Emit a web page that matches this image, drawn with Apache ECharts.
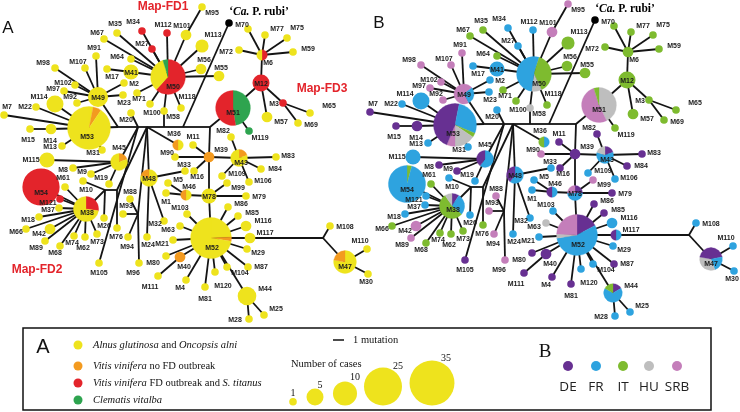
<!DOCTYPE html>
<html><head><meta charset="utf-8">
<script src="https://cdn.jsdelivr.net/npm/echarts@6.0.0/dist/echarts.min.js"></script>
<style>html,body{margin:0;padding:0;background:#fff}#c{width:740px;height:412px}</style>
</head><body><div id="c"></div>
<script>
// ---- network layout (node name, layout x, layout y, number of cases) ----
const nodes = [
['M1',166,193,1],['M2',124,83,1],['M3',283,103,1],['M4',186,280,1],['M5',168,183,1],['M6',262,55,2],['M7',4,115,1],['M8',73,168,1],['M9',91,174,1],['M10',83,181,1],
['M11',193,145,1],['M12',261,83,5],['M13',62,146,1],['M14',51,129,2],['M15',30,129,1],['M16',194,171,1],['M17',107,69,1],['M18',39,217,1],['M19',109,184,1],['M20',131,113,1],
['M21',173,240,1],['M22',36,107,1],['M23',123,95,1],['M24',147,237,1],['M25',264,315,1],['M26',104,218,1],['M27',152,49,1],['M28',249,319,1],['M29',247,249,1],['M30',368,274,1],
['M31',102,150,1],['M32',164,221,1],['M33',185,171,1],['M34',142,31,1],['M35',117,33,1],['M36',178,145,2],['M37',59,208,1],['M38',86,209,11],['M39',209,157,2],['M40',180,257,2],
['M41',131,72,4],['M42',50,229,2],['M43',239,158,5],['M44',247,296,6],['M45',119,162,5],['M46',186,195,2],['M47',345,262,9],['M48',149,178,5],['M49',98,97,7],['M50',168,77,21],
['M51',233,108,21],['M52',211,238,29],['M53',89,128,32],['M54',41,187,24],['M55',219,76,2],['M56',201,69,2],['M57',267,117,2],['M58',164,111,1],['M59',293,52,1],
['M61',65,187,1],['M62',85,237,1],['M63',180,226,1],['M64',131,59,1],['M65',310,113,1],['M66',26,229,1],['M67',104,39,1],['M68',60,246,1],['M69',298,123,1],['M70',248,29,1],
['M71',137,93,1],['M72',239,50,1],['M73',97,234,1],['M74',74,236,1],['M75',287,38,1],['M76',117,228,1],['M77',265,35,1],['M78',209,196,4],['M79',246,196,1],['M80',166,256,1],
['M81',205,287,1],['M82',231,137,1],['M83',276,157,1],['M84',261,169,1],['M85',238,216,1],['M86',228,207,1],['M87',248,267,1],['M88',130,199,1],['M89',45,241,1],['M90',175,157,1],
['M91',96,56,1],['M92',77,103,1],['M93',123,214,1],['M94',128,237,1],['M95',202,7,1],['M96',139,263,1],['M97',64,91,1],['M98',55,68,1],['M99',227,183,1],['M100',150,104,1],
['M101',186,35,2],['M102',75,85,1],['M103',187,214,1],['M104',227,267,1],['M105',99,263,1],['M106',249,182,1],['M107',85,68,1],['M108',330,226,1],['M109',222,176,1],['M110',367,249,1],
['M111',158,276,1],['M112',167,33,1],['M113',202,46,3],['M114',55,104,5],['M115',47,160,4],['M116',246,226,2],['M117',250,238,2],['M118',181,108,1],['M119',249,131,1],['M120',215,272,1],
['M121',60,199,1],['Ca',229,23,1]
];
const junctions = {J1:[118,127],J2:[138,127],J3:[147,127],J4:[164,127],J5:[183,127],J6:[210,127],J7:[105,190],J8:[117,190],J9:[138,214],J10:[323,238]};
const edges = [
['M53','J1'],['J1','J2'],['J2','J3'],['J3','J4'],['J4','J5'],['J5','J6'],['M49','J1'],['M20','J2'],['J2','M45'],['J3','J8'],['J8','J7'],['J7','M38'],['J7','M10'],['J7','M26'],['J8','M76'],['M105','J2'],
['J9','J3'],['J9','M88'],['J9','M93'],['J9','M94'],['J9','M96'],['J3','M48'],['M48','M24'],['M48','M33'],['M48','M32'],['J4','M58'],['M58','M50'],['J3','M36'],['J5','Ca'],['J6','M51'],['J6','M39'],
['M39','M11'],['M39','M90'],['M39','M16'],['M39','M43'],['M39','M78'],['M78','M52'],['M78','M46'],['M46','M5'],['M46','M1'],['M78','M99'],['M78','M79'],
['M43','M82'],['M43','M83'],['M43','M84'],['M43','M106'],['M43','M109'],
['M52','M103'],['M52','M63'],['M52','M21'],['M52','M80'],['M52','M40'],['M40','M111'],['M52','M4'],['M52','M81'],['M52','M120'],['M52','M104'],['M52','M44'],['M52','M87'],['M52','M29'],['M52','M117'],['M52','M116'],['M52','M85'],['M52','M86'],
['M44','M28'],['M44','M25'],['M117','J10'],['J10','M108'],['J10','M47'],['M47','M110'],['M47','M30'],
['M51','M12'],['M51','M119'],['M12','M6'],['M6','M70'],['M6','M77'],['M6','M75'],['M6','M72'],['M6','M59'],['M12','M3'],['M3','M65'],['M3','M69'],['M12','M57'],
['M50','M35'],['M50','M67'],['M50','M34'],['M50','M27'],['M50','M112'],['M50','M101'],['M101','M95'],['M50','M113'],['M50','M56'],['M50','M55'],['M50','M64'],['M50','M41'],['M41','M17'],['M50','M71'],['M50','M100'],['M50','M118'],
['M49','M91'],['M49','M98'],['M49','M107'],['M49','M102'],['M49','M97'],['M49','M92'],['M49','M23'],['M49','M2'],
['M53','M7'],['M53','M22'],['M53','M114'],['M53','M14'],['M14','M15'],['M53','M13'],['M53','M31'],
['M45','M115'],['M45','M8'],['M45','M9'],['M45','M19'],
['M38','M61'],['M38','M54'],['M38','M121'],['M38','M37'],['M38','M18'],['M38','M66'],['M38','M42'],['M38','M89'],['M38','M68'],['M38','M74'],['M38','M62'],['M38','M73']
];
const labelXY = {
M1:[166,202],M2:[134,84],M3:[274,104],M4:[180,288],M5:[178,180],M6:[268,63],M7:[7,107],M8:[63,170],M9:[82,172],M10:[86,190],
M11:[193,137],M12:[261,84],M13:[50,147],M14:[50,141],M15:[28,140],M16:[197,177],M17:[112,77],M18:[28,220],M19:[101,178],M20:[126,120],
M21:[162,244],M22:[25,107],M23:[124,103],M24:[148,245],M25:[276,309],M26:[104,226],M27:[142,44],M28:[235,320],M29:[258,253],M30:[366,282],
M31:[93,153],M32:[155,224],M33:[184,165],M34:[133,22],M35:[115,24],M36:[174,134],M37:[48,210],M38:[87,213],M39:[221,150],M40:[184,267],
M41:[131,73],M42:[39,234],M43:[241,163],M44:[265,289],M45:[119,148],M46:[189,187],M47:[345,267],M48:[149,179],M49:[98,98],M50:[173,87],
M51:[233,113],M52:[212,248],M53:[87,137],M54:[41,193],M55:[221,68],M56:[204,60],M57:[281,122],M58:[173,117],M59:[308,49],
M61:[63,178],M62:[83,248],M63:[168,230],M64:[117,57],M65:[329,106],M66:[16,232],M67:[97,33],M68:[55,253],M69:[311,125],M70:[242,25],
M71:[139,99],M72:[226,52],M73:[97,242],M74:[72,243],M75:[297,28],M76:[116,237],M77:[277,29],M78:[209,197],M79:[259,197],M80:[153,263],
M81:[205,299],M82:[223,131],M83:[288,156],M84:[275,169],M85:[252,213],M86:[241,204],M87:[261,267],M88:[130,192],M89:[36,248],M90:[167,153],
M91:[94,48],M92:[70,97],M93:[126,206],M94:[127,247],M95:[212,13],M96:[133,273],M97:[53,89],M98:[43,63],M99:[238,188],M100:[152,113],
M101:[182,26],M102:[63,83],M103:[180,208],M104:[240,273],M105:[99,273],M106:[263,181],M107:[78,62],M108:[345,227],M109:[237,174],M110:[360,241],
M111:[150,287],M112:[163,25],M113:[213,35],M114:[39,97],M115:[31,160],M116:[263,221],M117:[265,233],M118:[187,97],M119:[260,138],M120:[223,286],
M121:[48,203],Ca:[259,12]
};
// ---- A: host composition (ordered clockwise from 12 o'clock); default Y ----
const hostA = {
M50:[['R',13],['Y',7],['G',1]], M51:[['G',10],['R',11]], M53:[['Y',1],['O',2],['Y',29]], M52:[['Y',7],['O',1],['Y',21]],
M54:'R', M38:[['R',3],['Y',8]], M47:[['Y',7],['O',2]], M43:[['O',1],['Y',4]], M48:[['Y',4],['O',1]], M45:[['O',1],['Y',4]],
M36:[['Y',1],['O',1]], M46:[['Y',1],['O',1]], M6:[['R',1],['Y',1]], M39:'O', M40:'O',
M12:'R', M3:'R', M34:'R', M112:'R', M27:'R', M121:'R', M119:'G', Ca:'K'
};
// ---- B: country composition ----
const singleDE = ['M7','M15','M14','M8','M9','M105','M80','M40','M111','M4','M82','M11','M39','M16','M83','M84','M79','M86','M85','M87','M81'];
const singleFR = ['M34','M112','M27','M17','M41','M2','M114','M23','M22','M20','M13','M31','M115','M19','M10','M121','M37','M18','M26','M24','M33','M5','M1','M103','M32','M21','M109','M106','M116','M29','M104','M120','M108','M110','M30','M28','M25'];
const singleIT = ['M35','M67','M64','M71','M100','M118','M113','M56','M55','M70','M77','M75','M72','M59','M6','M12','M3','M65','M57','M69','M119','M61','M66','M68','M74','M62','M73','M76'];
const singleHU = ['M58','M63'];
const singleSRB = ['M101','M91','M98','M107','M102','M97','M92','M95','M42','M89','M88','M93','M94','M96','M90','M99'];
const mixedB = {
M53:[['DE',1],['FR',9],['IT',1],['HU',5],['SRB',2],['DE',14]], M52:[['DE',5],['FR',16],['HU',1],['SRB',7]],
M50:[['FR',1],['IT',8],['HU',2],['FR',10]], M51:[['HU',9],['SRB',11],['IT',1]], M54:[['IT',1],['FR',23]],
M38:[['DE',1],['FR',3],['IT',6],['HU',1]], M49:[['SRB',1],['FR',2],['SRB',4]], M45:[['FR',3],['DE',2]],
M48:[['FR',3],['DE',2]], M43:[['DE',1],['FR',3],['HU',1]], M78:[['DE',1],['FR',2],['SRB',1]],
M47:[['DE',2],['FR',2],['HU',3],['DE',2]], M44:[['DE',1],['FR',4],['IT',1]], M117:[['FR',1],['DE',1]],
M36:[['FR',1],['IT',1]], M46:[['FR',1],['DE',1]], Ca:'K'
};
// ---- legend content ----
const hostLegend = [['Y','{i|Alnus glutinosa}{n| and }{i|Oncopsis alni}'],['O','{i|Vitis vinifera}{n| no FD outbreak}'],['R','{i|Vitis vinifera}{n| FD outbreak and }{i|S. titanus}'],['G','{i|Clematis vitalba}']];
const legendCases = [1,5,10,25,35];
const countries = ['DE','FR','IT','HU','SRB'];

const HOST_COLORS = {Y:'#EEE31D',O:'#F39A1F',R:'#E3242B',G:'#2EA44F',K:'#000'};
const COUNTRY_COLORS = {DE:'#673092',FR:'#2EA3DF',IT:'#7EBB2F',HU:'#BEBEBE',SRB:'#C47EBA',K:'#000'};
const countryB = Object.assign({}, mixedB);
singleDE.forEach(n=>countryB[n]='DE'); singleFR.forEach(n=>countryB[n]='FR'); singleIT.forEach(n=>countryB[n]='IT');
singleHU.forEach(n=>countryB[n]='HU'); singleSRB.forEach(n=>countryB[n]='SRB');

const radiusOf = n => 3.8*Math.sqrt(n);
const pos = {}; nodes.forEach(n=>pos[n[0]]=[n[1],n[2]]); Object.assign(pos, junctions);
const names = nodes.map(n=>n[0]);
const FONT = '"Liberation Sans", Arial, sans-serif';

function edgeSeries(g){
  return {type:'custom', xAxisIndex:g, yAxisIndex:g, clip:false, silent:true, z:1,
    data: edges.map(e=>[pos[e[0]][0],pos[e[0]][1],pos[e[1]][0],pos[e[1]][1]]),
    encode:{x:[0,2],y:[1,3]},
    renderItem:(p,api)=>{const a=api.coord([api.value(0),api.value(1)]),b=api.coord([api.value(2),api.value(3)]);
      return {type:'line',shape:{x1:a[0],y1:a[1],x2:b[0],y2:b[1]},style:{stroke:'#141414',lineWidth:1.8}};}};
}
function pieSeries(g, comp, colors, def){
  return {type:'custom', xAxisIndex:g, yAxisIndex:g, clip:false, silent:true, z:2,
    data: nodes.map((n,i)=>[n[1],n[2],n[3],i]), encode:{x:0,y:1},
    renderItem:(p,api)=>{
      const nm=names[api.value(3)]; const c=api.coord([api.value(0),api.value(1)]); const r=radiusOf(api.value(2));
      let cp = comp[nm] || def; if(typeof cp==='string') cp=[[cp,1]];
      const tot=cp.reduce((s,q)=>s+q[1],0); let a=-Math.PI/2; const ch=[];
      cp.forEach(([k,v])=>{const b=a+v/tot*2*Math.PI;
        if(cp.length===1) ch.push({type:'circle',shape:{cx:c[0],cy:c[1],r:r},style:{fill:colors[k]}});
        else ch.push({type:'sector',shape:{cx:c[0],cy:c[1],r0:0,r:r,startAngle:a,endAngle:b,clockwise:true},style:{fill:colors[k],stroke:colors[k],lineWidth:0.3}});
        a=b;});
      return {type:'group',children:ch};}};
}
function labelSeries(g){
  return {type:'custom', xAxisIndex:g, yAxisIndex:g, clip:false, silent:true, z:3,
    data: names.map((nm,i)=>[labelXY[nm][0],labelXY[nm][1],i]), encode:{x:0,y:1},
    renderItem:(p,api)=>{
      const nm=names[api.value(2)]; const c=api.coord([api.value(0),api.value(1)]);
      if(nm==='Ca') return {type:'text',x:c[0],y:c[1],style:{text:'{b|‘}{i|Ca.}{b| P. rubi’}',align:'center',verticalAlign:'middle',
        rich:{b:{fontFamily:'"Liberation Serif", serif',fontWeight:'bold',fontSize:11.5,fill:'#000'},i:{fontFamily:'"Liberation Serif", serif',fontWeight:'bold',fontStyle:'italic',fontSize:11.5,fill:'#000'}}}};
      return {type:'text',x:c[0],y:c[1],style:{text:nm,fontFamily:FONT,fontWeight:'bold',fontSize:7,fill:'#1c1c1c',align:'center',verticalAlign:'middle'}};}};
}

// ---- legend graphics ----
const SERIF='"Liberation Serif", "Times New Roman", serif';
const graphic = [
  {type:'text',x:8,y:28,style:{text:'A',fontFamily:FONT,fontSize:17,fill:'#111',align:'center',verticalAlign:'middle'}},
  {type:'text',x:379,y:23,style:{text:'B',fontFamily:FONT,fontSize:17,fill:'#111',align:'center',verticalAlign:'middle'}},
  {type:'text',x:163,y:7,style:{text:'Map-FD1',fontFamily:FONT,fontWeight:'bold',fontSize:12,fill:'#E3242B',align:'center',verticalAlign:'middle'}},
  {type:'text',x:322,y:89,style:{text:'Map-FD3',fontFamily:FONT,fontWeight:'bold',fontSize:12,fill:'#E3242B',align:'center',verticalAlign:'middle'}},
  {type:'text',x:37,y:270,style:{text:'Map-FD2',fontFamily:FONT,fontWeight:'bold',fontSize:12,fill:'#E3242B',align:'center',verticalAlign:'middle'}},
  {type:'rect',shape:{x:23,y:328,width:688,height:82},style:{fill:'none',stroke:'#111',lineWidth:1.5}},
  {type:'text',x:43,y:347,style:{text:'A',fontFamily:FONT,fontSize:20,fill:'#111',align:'center',verticalAlign:'middle'}},
  {type:'text',x:545,y:352,style:{text:'B',fontFamily:SERIF,fontSize:19,fill:'#111',align:'center',verticalAlign:'middle'}},
  {type:'line',shape:{x1:333,y1:340,x2:344,y2:340},style:{stroke:'#111',lineWidth:1.5}},
  {type:'text',x:353,y:340,style:{text:'1 mutation',fontFamily:SERIF,fontSize:10.5,fill:'#111',align:'left',verticalAlign:'middle'}},
  {type:'text',x:291,y:364,style:{text:'Number of cases',fontFamily:SERIF,fontSize:10.5,fill:'#111',align:'left',verticalAlign:'middle'}}
];
const hostY=[345,366,383,400];
hostLegend.forEach(([k,t],i)=>{
  graphic.push({type:'circle',shape:{cx:78,cy:hostY[i],r:4.5},style:{fill:HOST_COLORS[k]}});
  graphic.push({type:'text',x:93,y:hostY[i],style:{text:t,align:'left',verticalAlign:'middle',
    rich:{i:{fontFamily:SERIF,fontStyle:'italic',fontSize:10.5,fill:'#111'},n:{fontFamily:SERIF,fontSize:10.5,fill:'#111'}}}});
});
const caseX=[293,315,345,383,432], caseLbl=[[293,393],[320,385],[355,377],[398,366],[446,358]];
legendCases.forEach((n,i)=>{const r=radiusOf(n);
  graphic.push({type:'circle',shape:{cx:caseX[i],cy:405.5-r,r:r},style:{fill:HOST_COLORS.Y}});
  graphic.push({type:'text',x:caseLbl[i][0],y:caseLbl[i][1],style:{text:String(n),fontFamily:SERIF,fontSize:10,fill:'#111',align:'center',verticalAlign:'middle'}});
});
const cX=[568,596,623,649,677];
countries.forEach((k,i)=>{
  graphic.push({type:'circle',shape:{cx:cX[i],cy:366,r:5},style:{fill:COUNTRY_COLORS[k]}});
  graphic.push({type:'text',x:cX[i],y:387,style:{text:k,fontFamily:'"Open Sans", "Noto Sans", sans-serif',fontSize:13.5,fill:'#222',align:'center',verticalAlign:'middle'}});
});

const chart = echarts.init(document.getElementById('c'), null, {renderer:'canvas'});
chart.setOption({
  animation:false, backgroundColor:'#fff',
  grid:[{left:0,top:0,width:740,height:412},{left:0,top:0,width:740,height:412}],
  xAxis:[{type:'value',gridIndex:0,min:0,max:740,show:false},{type:'value',gridIndex:1,min:-366,max:374,show:false}],
  yAxis:[{type:'value',gridIndex:0,min:0,max:412,inverse:true,show:false},{type:'value',gridIndex:1,min:3,max:415,inverse:true,show:false}],
  series:[edgeSeries(0),edgeSeries(1),pieSeries(0,hostA,HOST_COLORS,'Y'),pieSeries(1,countryB,COUNTRY_COLORS,'FR'),labelSeries(0),labelSeries(1)],
  graphic:graphic
});
</script></body></html>
